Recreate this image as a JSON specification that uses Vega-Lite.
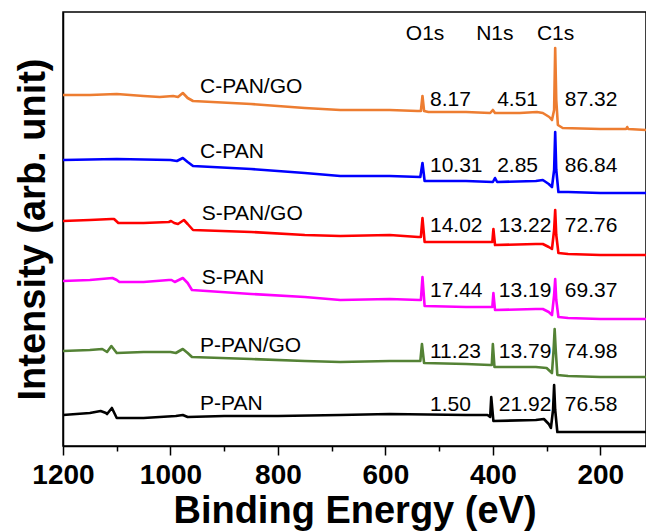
{
  "$schema": "https://vega.github.io/schema/vega-lite/v6.json",
  "autosize": {"type": "none"},
  "padding": {"left": 63, "top": 12, "right": 0, "bottom": 86},
  "width": 583,
  "height": 434,
  "background": "white",
  "config": {"font": "Liberation Sans", "view": {"stroke": "black", "strokeWidth": 1.5}},
  "datasets": {
    "spectra": [
      {"sample":"C-PAN/GO","energy":1200,"intensity":351},{"sample":"C-PAN/GO","energy":1150,"intensity":351},{"sample":"C-PAN/GO","energy":1100,"intensity":352},{"sample":"C-PAN/GO","energy":1050,"intensity":350},{"sample":"C-PAN/GO","energy":1020,"intensity":349},{"sample":"C-PAN/GO","energy":995,"intensity":350},{"sample":"C-PAN/GO","energy":986,"intensity":349},{"sample":"C-PAN/GO","energy":977,"intensity":353},{"sample":"C-PAN/GO","energy":968,"intensity":348},{"sample":"C-PAN/GO","energy":958,"intensity":345},{"sample":"C-PAN/GO","energy":850,"intensity":342},{"sample":"C-PAN/GO","energy":750,"intensity":338},{"sample":"C-PAN/GO","energy":684,"intensity":336},{"sample":"C-PAN/GO","energy":592,"intensity":336},{"sample":"C-PAN/GO","energy":540,"intensity":335},{"sample":"C-PAN/GO","energy":534,"intensity":335},{"sample":"C-PAN/GO","energy":531,"intensity":350},{"sample":"C-PAN/GO","energy":528,"intensity":335},{"sample":"C-PAN/GO","energy":520,"intensity":334},{"sample":"C-PAN/GO","energy":450,"intensity":334},{"sample":"C-PAN/GO","energy":405,"intensity":333},{"sample":"C-PAN/GO","energy":400,"intensity":336},{"sample":"C-PAN/GO","energy":396,"intensity":333},{"sample":"C-PAN/GO","energy":350,"intensity":333},{"sample":"C-PAN/GO","energy":318,"intensity":334},{"sample":"C-PAN/GO","energy":307,"intensity":333},{"sample":"C-PAN/GO","energy":295,"intensity":329},{"sample":"C-PAN/GO","energy":290,"intensity":326},{"sample":"C-PAN/GO","energy":286,"intensity":336},{"sample":"C-PAN/GO","energy":284,"intensity":398},{"sample":"C-PAN/GO","energy":282,"intensity":346},{"sample":"C-PAN/GO","energy":279,"intensity":321},{"sample":"C-PAN/GO","energy":270,"intensity":318},{"sample":"C-PAN/GO","energy":200,"intensity":317},{"sample":"C-PAN/GO","energy":152,"intensity":317},{"sample":"C-PAN/GO","energy":150,"intensity":319},{"sample":"C-PAN/GO","energy":148,"intensity":317},{"sample":"C-PAN/GO","energy":115,"intensity":316},

      {"sample":"C-PAN","energy":1200,"intensity":286},{"sample":"C-PAN","energy":1100,"intensity":287},{"sample":"C-PAN","energy":1000,"intensity":286},{"sample":"C-PAN","energy":988,"intensity":285},{"sample":"C-PAN","energy":977,"intensity":288},{"sample":"C-PAN","energy":968,"intensity":284},{"sample":"C-PAN","energy":958,"intensity":280},{"sample":"C-PAN","energy":850,"intensity":277},{"sample":"C-PAN","energy":750,"intensity":273},{"sample":"C-PAN","energy":684,"intensity":270},{"sample":"C-PAN","energy":592,"intensity":270},{"sample":"C-PAN","energy":535,"intensity":269},{"sample":"C-PAN","energy":531,"intensity":283},{"sample":"C-PAN","energy":527,"intensity":265},{"sample":"C-PAN","energy":450,"intensity":265},{"sample":"C-PAN","energy":400,"intensity":264},{"sample":"C-PAN","energy":396,"intensity":268},{"sample":"C-PAN","energy":392,"intensity":264},{"sample":"C-PAN","energy":320,"intensity":265},{"sample":"C-PAN","energy":307,"intensity":266},{"sample":"C-PAN","energy":296,"intensity":262},{"sample":"C-PAN","energy":290,"intensity":259},{"sample":"C-PAN","energy":286,"intensity":276},{"sample":"C-PAN","energy":284,"intensity":314},{"sample":"C-PAN","energy":282,"intensity":276},{"sample":"C-PAN","energy":278,"intensity":254},{"sample":"C-PAN","energy":260,"intensity":254},{"sample":"C-PAN","energy":200,"intensity":253},{"sample":"C-PAN","energy":115,"intensity":253},

      {"sample":"S-PAN/GO","energy":1200,"intensity":225},{"sample":"S-PAN/GO","energy":1150,"intensity":226},{"sample":"S-PAN/GO","energy":1110,"intensity":227},{"sample":"S-PAN/GO","energy":1105,"intensity":227},{"sample":"S-PAN/GO","energy":1097,"intensity":223},{"sample":"S-PAN/GO","energy":1050,"intensity":223},{"sample":"S-PAN/GO","energy":1003,"intensity":224},{"sample":"S-PAN/GO","energy":999,"intensity":225},{"sample":"S-PAN/GO","energy":993,"intensity":223},{"sample":"S-PAN/GO","energy":986,"intensity":222},{"sample":"S-PAN/GO","energy":975,"intensity":226},{"sample":"S-PAN/GO","energy":968,"intensity":222},{"sample":"S-PAN/GO","energy":958,"intensity":216},{"sample":"S-PAN/GO","energy":850,"intensity":214},{"sample":"S-PAN/GO","energy":750,"intensity":211},{"sample":"S-PAN/GO","energy":684,"intensity":210},{"sample":"S-PAN/GO","energy":592,"intensity":211},{"sample":"S-PAN/GO","energy":539,"intensity":209},{"sample":"S-PAN/GO","energy":534,"intensity":209},{"sample":"S-PAN/GO","energy":531,"intensity":228},{"sample":"S-PAN/GO","energy":527,"intensity":204},{"sample":"S-PAN/GO","energy":450,"intensity":204},{"sample":"S-PAN/GO","energy":405,"intensity":204},{"sample":"S-PAN/GO","energy":401,"intensity":204},{"sample":"S-PAN/GO","energy":399,"intensity":217},{"sample":"S-PAN/GO","energy":396,"intensity":201},{"sample":"S-PAN/GO","energy":320,"intensity":202},{"sample":"S-PAN/GO","energy":307,"intensity":202},{"sample":"S-PAN/GO","energy":296,"intensity":199},{"sample":"S-PAN/GO","energy":290,"intensity":197},{"sample":"S-PAN/GO","energy":286,"intensity":216},{"sample":"S-PAN/GO","energy":284,"intensity":236},{"sample":"S-PAN/GO","energy":282,"intensity":211},{"sample":"S-PAN/GO","energy":278,"intensity":193},{"sample":"S-PAN/GO","energy":260,"intensity":192},{"sample":"S-PAN/GO","energy":200,"intensity":191},{"sample":"S-PAN/GO","energy":115,"intensity":191},

      {"sample":"S-PAN","energy":1200,"intensity":165},{"sample":"S-PAN","energy":1150,"intensity":166},{"sample":"S-PAN","energy":1108,"intensity":168},{"sample":"S-PAN","energy":1100,"intensity":166},{"sample":"S-PAN","energy":1095,"intensity":164},{"sample":"S-PAN","energy":1050,"intensity":164},{"sample":"S-PAN","energy":1003,"intensity":166},{"sample":"S-PAN","energy":998,"intensity":166},{"sample":"S-PAN","energy":992,"intensity":164},{"sample":"S-PAN","energy":977,"intensity":168},{"sample":"S-PAN","energy":968,"intensity":163},{"sample":"S-PAN","energy":960,"intensity":156},{"sample":"S-PAN","energy":850,"intensity":152},{"sample":"S-PAN","energy":750,"intensity":149},{"sample":"S-PAN","energy":684,"intensity":146},{"sample":"S-PAN","energy":592,"intensity":147},{"sample":"S-PAN","energy":537,"intensity":146},{"sample":"S-PAN","energy":534,"intensity":146},{"sample":"S-PAN","energy":531,"intensity":169},{"sample":"S-PAN","energy":527,"intensity":140},{"sample":"S-PAN","energy":450,"intensity":139},{"sample":"S-PAN","energy":405,"intensity":139},{"sample":"S-PAN","energy":401,"intensity":139},{"sample":"S-PAN","energy":399,"intensity":153},{"sample":"S-PAN","energy":396,"intensity":136},{"sample":"S-PAN","energy":320,"intensity":137},{"sample":"S-PAN","energy":307,"intensity":137},{"sample":"S-PAN","energy":296,"intensity":134},{"sample":"S-PAN","energy":290,"intensity":131},{"sample":"S-PAN","energy":286,"intensity":151},{"sample":"S-PAN","energy":284,"intensity":167},{"sample":"S-PAN","energy":282,"intensity":146},{"sample":"S-PAN","energy":278,"intensity":129},{"sample":"S-PAN","energy":260,"intensity":128},{"sample":"S-PAN","energy":200,"intensity":127},{"sample":"S-PAN","energy":115,"intensity":127},

      {"sample":"P-PAN/GO","energy":1200,"intensity":95},{"sample":"P-PAN/GO","energy":1150,"intensity":96},{"sample":"P-PAN/GO","energy":1127,"intensity":97},{"sample":"P-PAN/GO","energy":1118,"intensity":94},{"sample":"P-PAN/GO","energy":1110,"intensity":100},{"sample":"P-PAN/GO","energy":1100,"intensity":93},{"sample":"P-PAN/GO","energy":1050,"intensity":94},{"sample":"P-PAN/GO","energy":1000,"intensity":94},{"sample":"P-PAN/GO","energy":990,"intensity":93},{"sample":"P-PAN/GO","energy":977,"intensity":97},{"sample":"P-PAN/GO","energy":968,"intensity":93},{"sample":"P-PAN/GO","energy":960,"intensity":89},{"sample":"P-PAN/GO","energy":850,"intensity":87},{"sample":"P-PAN/GO","energy":750,"intensity":85},{"sample":"P-PAN/GO","energy":684,"intensity":84},{"sample":"P-PAN/GO","energy":592,"intensity":85},{"sample":"P-PAN/GO","energy":539,"intensity":85},{"sample":"P-PAN/GO","energy":535,"intensity":85},{"sample":"P-PAN/GO","energy":532,"intensity":102},{"sample":"P-PAN/GO","energy":528,"intensity":83},{"sample":"P-PAN/GO","energy":450,"intensity":82},{"sample":"P-PAN/GO","energy":405,"intensity":81},{"sample":"P-PAN/GO","energy":402,"intensity":81},{"sample":"P-PAN/GO","energy":400,"intensity":102},{"sample":"P-PAN/GO","energy":397,"intensity":79},{"sample":"P-PAN/GO","energy":320,"intensity":79},{"sample":"P-PAN/GO","energy":300,"intensity":78},{"sample":"P-PAN/GO","energy":292,"intensity":74},{"sample":"P-PAN/GO","energy":290,"intensity":73},{"sample":"P-PAN/GO","energy":287,"intensity":96},{"sample":"P-PAN/GO","energy":285,"intensity":117},{"sample":"P-PAN/GO","energy":283,"intensity":96},{"sample":"P-PAN/GO","energy":280,"intensity":71},{"sample":"P-PAN/GO","energy":260,"intensity":70},{"sample":"P-PAN/GO","energy":200,"intensity":69},{"sample":"P-PAN/GO","energy":115,"intensity":69},

      {"sample":"P-PAN","energy":1200,"intensity":31},{"sample":"P-PAN","energy":1150,"intensity":33},{"sample":"P-PAN","energy":1130,"intensity":35},{"sample":"P-PAN","energy":1120,"intensity":33},{"sample":"P-PAN","energy":1118,"intensity":32},{"sample":"P-PAN","energy":1109,"intensity":38},{"sample":"P-PAN","energy":1100,"intensity":28},{"sample":"P-PAN","energy":1050,"intensity":28},{"sample":"P-PAN","energy":1020,"intensity":29},{"sample":"P-PAN","energy":990,"intensity":30},{"sample":"P-PAN","energy":977,"intensity":31},{"sample":"P-PAN","energy":968,"intensity":29},{"sample":"P-PAN","energy":900,"intensity":30},{"sample":"P-PAN","energy":800,"intensity":30},{"sample":"P-PAN","energy":684,"intensity":31},{"sample":"P-PAN","energy":592,"intensity":32},{"sample":"P-PAN","energy":450,"intensity":31},{"sample":"P-PAN","energy":410,"intensity":31},{"sample":"P-PAN","energy":405,"intensity":29},{"sample":"P-PAN","energy":403,"intensity":49},{"sample":"P-PAN","energy":399,"intensity":25},{"sample":"P-PAN","energy":320,"intensity":26},{"sample":"P-PAN","energy":305,"intensity":27},{"sample":"P-PAN","energy":296,"intensity":22},{"sample":"P-PAN","energy":292,"intensity":18},{"sample":"P-PAN","energy":288,"intensity":36},{"sample":"P-PAN","energy":286,"intensity":61},{"sample":"P-PAN","energy":284,"intensity":36},{"sample":"P-PAN","energy":280,"intensity":14},{"sample":"P-PAN","energy":260,"intensity":14},{"sample":"P-PAN","energy":200,"intensity":14},{"sample":"P-PAN","energy":115,"intensity":14}
    ],
    "names": [
      {"label":"C-PAN/GO","energy":945,"intensity":359},
      {"label":"C-PAN","energy":945,"intensity":294},
      {"label":"S-PAN/GO","energy":942,"intensity":232},
      {"label":"S-PAN","energy":942,"intensity":168},
      {"label":"P-PAN/GO","energy":945,"intensity":100},
      {"label":"P-PAN","energy":945,"intensity":42}
    ],
    "percents": [
      {"label":"8.17","energy":517,"intensity":346},{"label":"4.51","energy":392,"intensity":346},{"label":"87.32","energy":266,"intensity":346},
      {"label":"10.31","energy":517,"intensity":280},{"label":"2.85","energy":392,"intensity":280},{"label":"86.84","energy":266,"intensity":280},
      {"label":"14.02","energy":517,"intensity":220},{"label":"13.22","energy":389,"intensity":220},{"label":"72.76","energy":266,"intensity":220},
      {"label":"17.44","energy":517,"intensity":155},{"label":"13.19","energy":389,"intensity":155},{"label":"69.37","energy":266,"intensity":155},
      {"label":"11.23","energy":517,"intensity":94},{"label":"13.79","energy":389,"intensity":94},{"label":"74.98","energy":266,"intensity":94},
      {"label":"1.50","energy":517,"intensity":41},{"label":"21.92","energy":389,"intensity":41},{"label":"76.58","energy":266,"intensity":41}
    ],
    "headers": [
      {"label":"O1s","energy":562,"intensity":412},
      {"label":"N1s","energy":431,"intensity":412},
      {"label":"C1s","energy":318,"intensity":412}
    ]
  },
  "encoding": {
    "x": {
      "field": "energy", "type": "quantitative",
      "scale": {"domain": [115, 1200], "reverse": true, "nice": false, "zero": false},
      "axis": {
        "title": "Binding Energy (eV)",
        "values": [1200, 1100, 1000, 900, 800, 700, 600, 500, 400, 300, 200],
        "labelExpr": "datum.value % 200 === 0 ? datum.label : ''",
        "format": "d",
        "grid": false,
        "domainColor": "black", "domainWidth": 1.5,
        "tickColor": "black", "tickWidth": 1.5,
        "tickSize": {"condition": {"test": "datum.value % 200 === 0", "value": 9}, "value": 5},
        "labelFont": "Liberation Sans", "labelFontSize": 28, "labelFontWeight": "bold", "labelColor": "black",
        "labelPadding": 6, "labelFlush": false, "labelOverlap": false,
        "titleFont": "Liberation Sans", "titleFontSize": 38, "titleFontWeight": "bold", "titleColor": "black",
        "titlePadding": 3
      }
    },
    "y": {
      "field": "intensity", "type": "quantitative",
      "scale": {"domain": [0, 434], "nice": false, "zero": false},
      "axis": {
        "title": "Intensity (arb. unit)",
        "ticks": false, "labels": false, "grid": false,
        "domainColor": "black", "domainWidth": 1.5,
        "titleFont": "Liberation Sans", "titleFontSize": 38, "titleFontWeight": "bold", "titleColor": "black",
        "titlePadding": 11
      }
    }
  },
  "layer": [
    {
      "data": {"name": "spectra"},
      "mark": {"type": "line", "strokeWidth": 2.6, "strokeJoin": "round"},
      "encoding": {
        "color": {
          "field": "sample", "type": "nominal", "legend": null,
          "scale": {
            "domain": ["C-PAN/GO", "C-PAN", "S-PAN/GO", "S-PAN", "P-PAN/GO", "P-PAN"],
            "range": ["#ED7D31", "#0000FF", "#FF0000", "#FF00FF", "#548235", "#000000"]
          }
        }
      }
    },
    {
      "data": {"name": "names"},
      "mark": {"type": "text", "align": "left", "baseline": "middle", "font": "Liberation Sans", "fontSize": 21, "color": "black"},
      "encoding": {"text": {"field": "label"}}
    },
    {
      "data": {"name": "percents"},
      "mark": {"type": "text", "align": "left", "baseline": "middle", "font": "Liberation Sans", "fontSize": 21, "color": "black"},
      "encoding": {"text": {"field": "label"}}
    },
    {
      "data": {"name": "headers"},
      "mark": {"type": "text", "align": "left", "baseline": "middle", "font": "Liberation Sans", "fontSize": 21, "color": "black"},
      "encoding": {"text": {"field": "label"}}
    }
  ]
}
